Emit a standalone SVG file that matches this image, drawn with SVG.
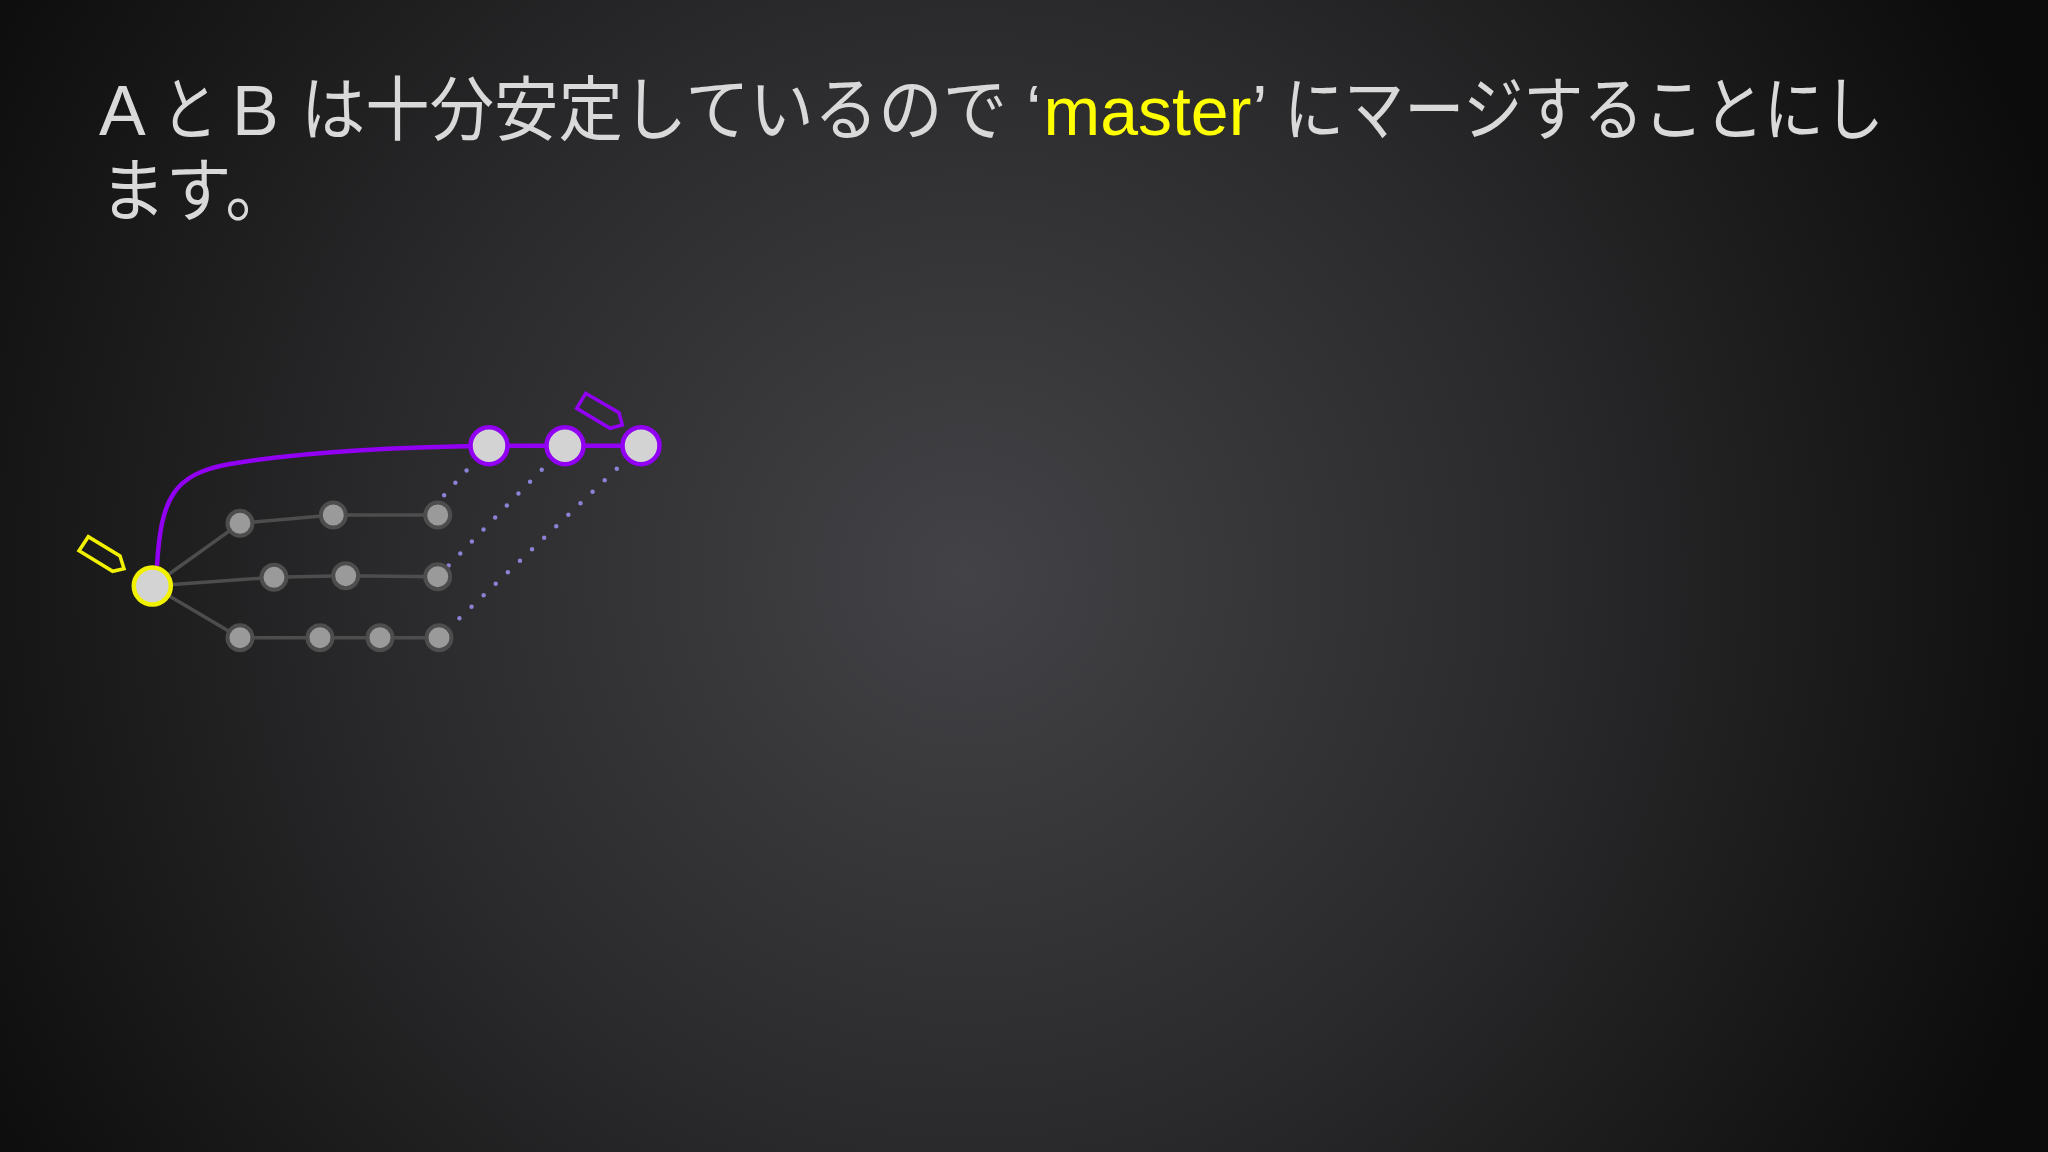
<svg xmlns="http://www.w3.org/2000/svg" width="2048" height="1152" viewBox="0 0 2048 1152">
  <defs>
    <radialGradient id="bg" gradientUnits="userSpaceOnUse" cx="966" cy="575" r="1150">
      <stop offset="0" stop-color="#434246"/>
      <stop offset="0.5" stop-color="#2a2a2c"/>
      <stop offset="1" stop-color="#0c0c0c"/>
    </radialGradient>
    <style>
      .t { font-family: "Liberation Sans", "Noto Sans CJK JP", sans-serif; font-size: 70px; fill: #d9d9d9; }
      .hl { fill: #ffff00; font-size: 68px; }
      .edge { stroke: #4d4d4d; stroke-width: 3.5; fill: none; }
      .pedge { stroke: #9100f2; stroke-width: 4.5; fill: none; }
      .dot { stroke: #8a82d4; stroke-width: 4.5; stroke-linecap: round; stroke-dasharray: 0 16.7; fill: none; }
      .g { fill: #9a9a9a; stroke: #4d4d4d; stroke-width: 4; }
      .p { fill: #d3d3d3; stroke: #9100f2; stroke-width: 4.5; }
      .y { fill: #d3d3d3; stroke: #f2f200; stroke-width: 4.5; }
      .tagy { fill: none; stroke: #f2f200; stroke-width: 3.5; stroke-linejoin: miter; }
      .tagp { fill: none; stroke: #9100f2; stroke-width: 3.5; stroke-linejoin: miter; }
    </style>
  </defs>
  <rect width="2048" height="1152" fill="url(#bg)"/>

  <g id="title">
    <text class="t" x="99" y="135">A</text>
    <text class="t" x="161.5" y="135" textLength="56" lengthAdjust="spacingAndGlyphs">と</text>
    <text class="t" x="232" y="135">B</text>
    <text class="t" x="301" y="135" textLength="706" lengthAdjust="spacingAndGlyphs">は十分安定しているので</text>
    <text class="t" x="1026" y="135">‘</text>
    <text class="t hl" x="1043.5" y="135">master</text>
    <text class="t" x="1252" y="135">’</text>
    <text class="t" x="1284" y="135" textLength="600" lengthAdjust="spacingAndGlyphs">にマージすることにし</text>
    <text class="t" x="100" y="216" textLength="191" lengthAdjust="spacingAndGlyphs">ます。</text>
  </g>

  <g id="connectors">
    <line class="dot" x1="489" y1="445.7" x2="438" y2="502"/>
    <line class="dot" x1="565" y1="445.7" x2="437.7" y2="576.7"/>
    <line class="dot" x1="641" y1="445.7" x2="439" y2="637.7"/>
    <line class="edge" x1="152.3" y1="586" x2="240" y2="523.3"/>
    <line class="edge" x1="152.3" y1="586" x2="274" y2="577.3"/>
    <line class="edge" x1="152.3" y1="586" x2="240" y2="637.7"/>
    <polyline class="edge" points="240,523.3 333.3,515 437.7,515"/>
    <polyline class="edge" points="274,577.3 345.7,575.7 437.7,576.7"/>
    <polyline class="edge" points="240,637.7 320,637.7 380,637.7 439,637.7"/>
    <path class="pedge" d="M157,566 C161,500 172,474 230,464 C300,452 400,447 489,445.7"/>
    <line class="pedge" x1="489" y1="445.7" x2="641" y2="445.7"/>
  </g>

  <g id="node-base"><circle class="y" cx="152.3" cy="586" r="18.5"/></g>
  <g id="node-a1"><circle class="g" cx="240" cy="523.3" r="12.5"/></g>
  <g id="node-a2"><circle class="g" cx="333.3" cy="515" r="12.5"/></g>
  <g id="node-a3"><circle class="g" cx="437.7" cy="515" r="12.5"/></g>
  <g id="node-b1"><circle class="g" cx="274" cy="577.3" r="12.5"/></g>
  <g id="node-b2"><circle class="g" cx="345.7" cy="575.7" r="12.5"/></g>
  <g id="node-b3"><circle class="g" cx="437.7" cy="576.7" r="12.5"/></g>
  <g id="node-c1"><circle class="g" cx="240" cy="637.7" r="12.5"/></g>
  <g id="node-c2"><circle class="g" cx="320" cy="637.7" r="12.5"/></g>
  <g id="node-c3"><circle class="g" cx="380" cy="637.7" r="12.5"/></g>
  <g id="node-c4"><circle class="g" cx="439" cy="637.7" r="12.5"/></g>
  <g id="node-m1"><circle class="p" cx="489" cy="445.7" r="18.5"/></g>
  <g id="node-m2"><circle class="p" cx="565" cy="445.7" r="18.5"/></g>
  <g id="node-m3"><circle class="p" cx="641" cy="445.7" r="18.5"/></g>

  <g id="tag-master"><polygon class="tagy" points="79,550.7 88.3,536.7 120,556 124,568.7 112.7,571.3"/></g>
  <g id="tag-branch"><polygon class="tagp" points="576.7,408.3 585.7,393.3 619,412.7 622.3,425 610,428.3"/></g>
</svg>
